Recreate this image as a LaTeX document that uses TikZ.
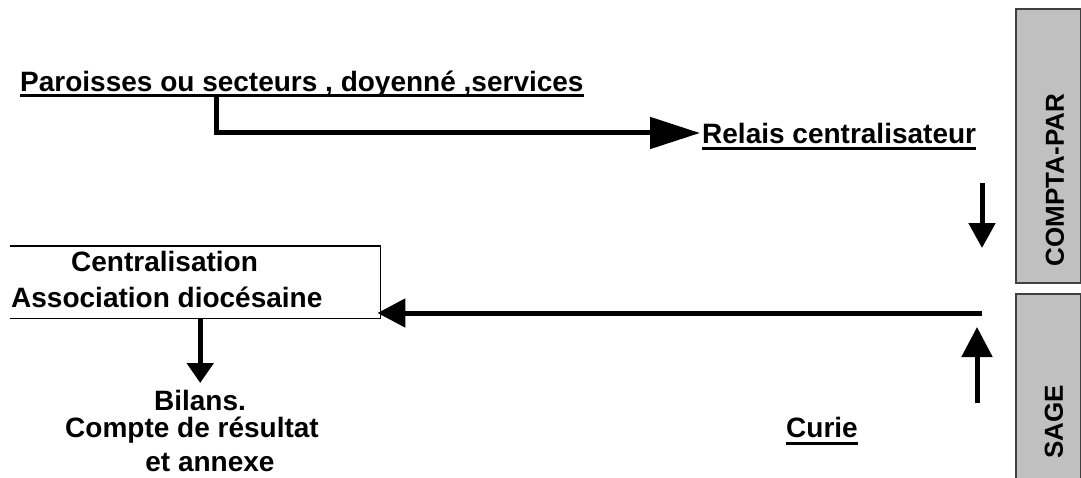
\documentclass[tikz,border=0pt]{standalone}
\usepackage{fontspec}
\setmainfont{Liberation Sans}
\usetikzlibrary{arrows.meta}
\definecolor{boxgray}{HTML}{C0C0C0}
\definecolor{boxline}{HTML}{404040}
\begin{document}
\begin{tikzpicture}[x=1pt,y=-1pt,
  txt/.style={inner sep=0pt,font=\bfseries\fontsize{28}{32}\selectfont},
  vtxt/.style={inner sep=0pt,rotate=90,font=\bfseries\fontsize{26}{30}\selectfont},
  conn/.style={line width=5pt},
  ul/.style={line width=3pt},
  side/.style={draw=boxline,fill=boxgray,line width=1.5pt,inner sep=0pt,anchor=north west}]
\useasboundingbox (0,0) rectangle (1081,477);
% side boxes
\node[side,minimum width=65pt,minimum height=274pt] (cp) at (1015,8) {};
\node[side,minimum width=65pt,minimum height=200pt] (sg) at (1015,293) {};
\node[vtxt] (cpt) at (1055,180) {COMPTA-PAR};
\node[vtxt] (sgt) at (1054,422) {SAGE};
% top texts
\node[txt,anchor=base west] (par) at (20,91) {Paroisses ou secteurs , doyenné ,services};
\draw[ul] ([yshift=-4pt]par.base west) -- ([yshift=-4pt]par.base east);
\node[txt,anchor=base west] (rel) at (702,143) {Relais centralisateur};
\draw[ul] ([yshift=-5pt]rel.base west) -- ([yshift=-5pt]rel.base east);
\coordinate (pstart) at ([xshift=196pt,yshift=-4pt]par.base west);
\draw[conn,-{Triangle[length=50pt,width=31pt]}] (pstart) |- ([xshift=-2pt]rel.west);
% right down arrow
\coordinate (d1) at (982,183);
\coordinate (d2) at (982,248);
\draw[conn,-{Triangle[length=25pt,width=26pt]}] (d1) -- (d2);
% centralisation box
\node[inner sep=0pt,minimum width=370pt,minimum height=72pt,anchor=north west] (box) at (10,246) {};
\draw[line width=1.2pt] (box.north west) -- (box.north east) -- (box.south east) -- (box.south west);
\node[txt,anchor=base west] (cen) at (71,271) {Centralisation};
\node[txt,anchor=base west] (asso) at (11,307) {Association diocésaine};
% long left arrow
\coordinate (h1) at (982,313);
\draw[conn,-{Triangle[length=28pt,width=28pt]}] (h1) -- ([xshift=-3pt]h1 -| box.east);
% up arrow
\coordinate (u1) at (977,403);
\coordinate (u2) at (977,327);
\draw[conn,-{Triangle[length=30pt,width=30pt]}] (u1) -- (u2);
% bilans
\node[txt,anchor=base] (bil) at (200,410) {Bilans.};
\node[txt,anchor=base] (cpr) at (192,437) {Compte de résultat};
\node[txt,anchor=base] (ann) at (210,471) {et annexe};
\draw[conn,-{Triangle[length=20pt,width=26pt]}] ([xshift=5pt]box.south) -- ([xshift=5pt]box.south |- 0,383);
% curie
\node[txt,anchor=base west] (cur) at (786,437) {Curie};
\draw[ul] ([yshift=-6pt]cur.base west) -- ([yshift=-6pt]cur.base east);
\end{tikzpicture}
\end{document}
